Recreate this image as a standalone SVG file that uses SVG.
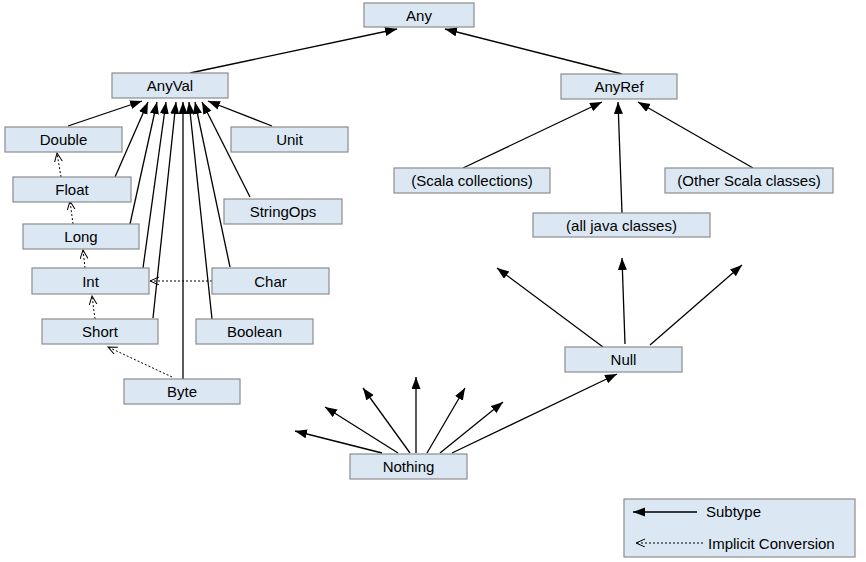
<svg xmlns="http://www.w3.org/2000/svg" width="866" height="562" viewBox="0 0 866 562">
<defs>
<marker id="sub" markerUnits="userSpaceOnUse" markerWidth="13" markerHeight="10" refX="12" refY="4.5" orient="auto"><path d="M0,0 L12,4.5 L0,9 z" fill="#000"/></marker>
<marker id="conv" markerUnits="userSpaceOnUse" markerWidth="11" markerHeight="10" refX="9" refY="4" orient="auto"><path d="M0,0 L9,4 L0,8" fill="none" stroke="#000" stroke-width="1"/></marker>
</defs>
<style>
.n rect{fill:#dbe8f4;stroke:#8c8c8c;stroke-width:1.2}
.n text{font-family:"Liberation Sans",Arial,sans-serif;font-size:15px;fill:#000;text-anchor:middle;dominant-baseline:central}
.s{stroke:#000;stroke-width:1.3;fill:none;marker-end:url(#sub)}
.c{stroke:#000;stroke-width:1;stroke-dasharray:2,2;fill:none;marker-end:url(#conv)}
.lt{font-family:"Liberation Sans",Arial,sans-serif;font-size:15px;fill:#000;dominant-baseline:central}
</style>
<rect width="866" height="562" fill="#fff"/>
<g id="connectors">
<line class="s" x1="190" y1="73" x2="397" y2="29"/>
<line class="s" x1="622" y1="74" x2="445" y2="29"/>
<line class="s" x1="463" y1="168" x2="602" y2="102"/>
<line class="s" x1="622" y1="213" x2="618" y2="102"/>
<line class="s" x1="753" y1="168" x2="638" y2="102"/>
<line class="s" x1="603" y1="347" x2="497" y2="268"/>
<line class="s" x1="625" y1="344" x2="622" y2="258"/>
<line class="s" x1="650" y1="345" x2="742" y2="265"/>
<line class="s" x1="382" y1="453" x2="295" y2="431"/>
<line class="s" x1="398" y1="453" x2="325" y2="407"/>
<line class="s" x1="410" y1="453" x2="363" y2="388"/>
<line class="s" x1="416" y1="453" x2="416" y2="377"/>
<line class="s" x1="427" y1="453" x2="465" y2="388"/>
<line class="s" x1="440" y1="453" x2="503" y2="402"/>
<line class="s" x1="452" y1="453" x2="617" y2="374"/>
<line class="s" x1="68" y1="126" x2="142" y2="101"/>
<line class="s" x1="115" y1="177" x2="148" y2="102"/>
<line class="s" x1="130" y1="224" x2="157" y2="102"/>
<line class="s" x1="143" y1="268" x2="166" y2="102"/>
<line class="s" x1="153" y1="318" x2="176" y2="102"/>
<line class="s" x1="183" y1="379" x2="183" y2="102"/>
<line class="s" x1="212" y1="319" x2="189" y2="102"/>
<line class="s" x1="230" y1="267" x2="195" y2="102"/>
<line class="s" x1="250" y1="197" x2="202" y2="102"/>
<line class="s" x1="272" y1="126" x2="208" y2="101"/>
<line class="c" x1="61" y1="177" x2="57" y2="153"/>
<line class="c" x1="73" y1="224" x2="70" y2="201"/>
<line class="c" x1="85" y1="268" x2="83" y2="250"/>
<line class="c" x1="95" y1="319" x2="92" y2="296"/>
<line class="c" x1="172" y1="377" x2="108" y2="347"/>
<line class="c" x1="212" y1="281" x2="150" y2="281"/>
</g>
<g id="any" class="n"><rect x="364" y="3" width="110" height="24"/><text x="419" y="15">Any</text></g>
<g id="anyval" class="n"><rect x="112" y="73" width="116" height="25"/><text x="170" y="85.5">AnyVal</text></g>
<g id="anyref" class="n"><rect x="561" y="74" width="116" height="25"/><text x="619" y="86.5">AnyRef</text></g>
<g id="double" class="n"><rect x="5" y="127" width="117" height="25"/><text x="63.5" y="139.5">Double</text></g>
<g id="unit" class="n"><rect x="231" y="127" width="117" height="25"/><text x="289.5" y="139.5">Unit</text></g>
<g id="float" class="n"><rect x="13" y="177" width="118" height="25"/><text x="72" y="189.5">Float</text></g>
<g id="stringops" class="n"><rect x="224" y="199" width="118" height="25"/><text x="283" y="211.5">StringOps</text></g>
<g id="long" class="n"><rect x="23" y="224" width="116" height="25"/><text x="81" y="236.5">Long</text></g>
<g id="int" class="n"><rect x="32" y="268" width="117" height="26"/><text x="90.5" y="281">Int</text></g>
<g id="char" class="n"><rect x="212" y="268" width="117" height="26"/><text x="270.5" y="281">Char</text></g>
<g id="short" class="n"><rect x="42" y="319" width="116" height="25"/><text x="100" y="331.5">Short</text></g>
<g id="boolean" class="n"><rect x="196" y="319" width="117" height="25"/><text x="254.5" y="331.5">Boolean</text></g>
<g id="byte" class="n"><rect x="124" y="379" width="116" height="25"/><text x="182" y="391.5">Byte</text></g>
<g id="scalacoll" class="n"><rect x="394" y="168" width="156" height="25"/><text x="472" y="180.5">(Scala collections)</text></g>
<g id="otherscala" class="n"><rect x="665" y="168" width="168" height="25"/><text x="749" y="180.5">(Other Scala classes)</text></g>
<g id="javaclasses" class="n"><rect x="533" y="213" width="177" height="24"/><text x="621.5" y="225">(all java classes)</text></g>
<g id="null" class="n"><rect x="565" y="347" width="117" height="25"/><text x="623.5" y="359.5">Null</text></g>
<g id="nothing" class="n"><rect x="350" y="454" width="117" height="25"/><text x="408.5" y="466.5">Nothing</text></g>
<g id="legend">
<rect x="624" y="499" width="231" height="58" fill="#dbe8f4" stroke="#8c8c8c" stroke-width="1.2"/>
<line class="s" x1="697" y1="512" x2="633" y2="512"/>
<text class="lt" x="706" y="511">Subtype</text>
<line class="c" x1="703" y1="543" x2="636" y2="543"/>
<text class="lt" x="708" y="543">Implicit Conversion</text>
</g>
</svg>
